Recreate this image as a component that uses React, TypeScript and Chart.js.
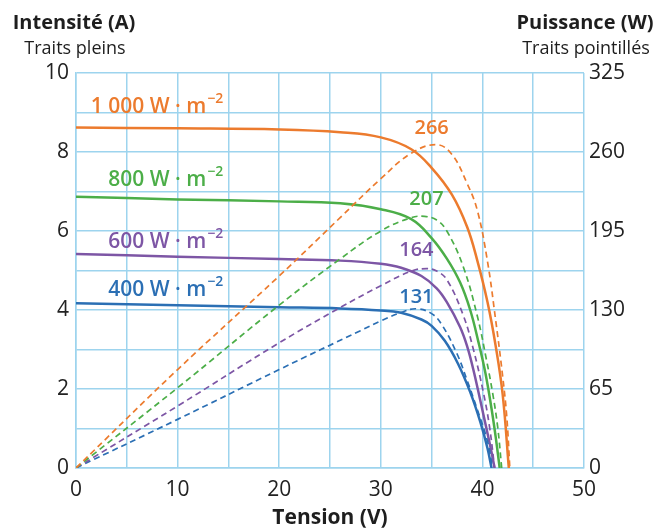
import React, { useEffect, useRef } from "react";
import { Chart, registerables } from "chart.js";

Chart.register(...registerables);

// ---- Data ----
// Intensity curves (solid): tension (V) -> intensité (A)
const V_I1000 = [0, 10, 20, 26, 30, 33, 35, 37, 38.5, 39.5, 40.5, 41.3, 42, 42.6];
const I_1000 = [8.62, 8.6, 8.57, 8.5, 8.37, 8.07, 7.6, 6.92, 6.1, 5.25, 4.2, 3.1, 1.85, 0];

const V_I800 = [0, 10, 20, 26, 30, 33, 35, 36.5, 37.8, 38.8, 39.6, 40.3, 40.9, 41.3, 41.7];
const I_800 = [6.87, 6.8, 6.75, 6.7, 6.55, 6.3, 5.82, 5.3, 4.7, 4.0, 3.2, 2.4, 1.5, 0.8, 0];

const V_I600 = [0, 10, 20, 26, 30, 32, 34, 35.5, 36.5, 37.8, 38.5, 39.1, 39.8, 40.4, 40.9, 41.2];
const I_600 = [5.42, 5.35, 5.29, 5.25, 5.17, 5.07, 4.86, 4.55, 4.2, 3.57, 3.08, 2.5, 1.7, 1.0, 0.4, 0];

const V_I400 = [0, 10, 20, 26, 30, 32, 34, 35, 36.3, 37.6, 38.8, 39.8, 40.5, 40.9];
const I_400 = [4.17, 4.12, 4.07, 4.04, 3.99, 3.93, 3.76, 3.6, 3.22, 2.64, 1.92, 1.16, 0.5, 0];

// Power curves (dashed): tension (V) -> puissance (W)
const V_P1000 = [0, 10, 20, 26, 30, 33, 35.5, 37, 38.5, 39.5, 40.5, 41.3, 42, 42.4, 42.7];
const P_1000 = [0, 81, 158, 206, 238, 259, 266, 258, 234, 212, 170, 122, 75, 42, 0];

const V_P800 = [0, 10, 20, 26, 30, 33, 34.3, 35.5, 36.5, 38.1, 39.5, 40.4, 41, 41.5, 41.9];
const P_800 = [0, 66, 134, 172, 195, 206, 207, 204, 195, 166, 125, 89, 62, 34, 0];

const V_P600 = [0, 10, 20, 26, 30, 33, 34.5, 35.5, 36.5, 38.1, 39.1, 40.1, 40.7, 41.2];
const P_600 = [0, 51, 103, 132, 150, 162, 164, 162, 155, 126, 98, 62, 34, 0];

const V_P400 = [0, 10, 20, 28, 30, 32, 33.5, 35, 36, 37.5, 38.5, 39.5, 40.5, 41.0];
const P_400 = [0, 40, 81, 113, 121, 128, 131, 127, 118, 94, 72, 48, 22, 0];

const SERIES_NAMES = ["1 000 W · m", "800 W · m", "600 W · m", "400 W · m"];
const PEAK_LABELS = ["266", "207", "164", "131"];
const COLORS = ["#ec7b2e", "#4cae48", "#7d56a5", "#2b6fb4"];

// Tick labels
const X_TICKS = [0, 10, 20, 30, 40, 50];
const Y_TICKS = [0, 2, 4, 6, 8, 10];
const Y2_TICKS = [0, 65, 130, 195, 260, 325];

// Label anchors (data coordinates)
const NAME_ANCHORS = [
  [14.5, 9.14],
  [14.5, 7.29],
  [14.5, 5.72],
  [14.5, 4.5],
];
const PEAK_ANCHORS = [
  [35.0, 8.6],
  [34.5, 6.8],
  [33.5, 5.5],
  [33.5, 4.33],
];

const GRID = "#9dd4ee";
const FONT = "'Open Sans', 'Noto Sans', sans-serif";

function pts(xs: number[], ys: number[]) {
  return xs.map((x, i) => ({ x, y: ys[i] }));
}

const labelsPlugin = {
  id: "labelsPlugin",
  afterDatasetsDraw(chart: any) {
    const ctx = chart.ctx as CanvasRenderingContext2D;
    const xs = chart.scales.x;
    const ys = chart.scales.y;
    ctx.save();
    // Series names
    NAME_ANCHORS.forEach((a, i) => {
      const px = xs.getPixelForValue(a[0]);
      const py = ys.getPixelForValue(a[1]);
      ctx.fillStyle = COLORS[i];
      ctx.textBaseline = "middle";
      ctx.font = `600 14px ${FONT}`;
      const sup = "−2";
      const supW = ctx.measureText(sup).width;
      ctx.textAlign = "right";
      ctx.fillText(sup, px, py - 8);
      ctx.font = `600 21px ${FONT}`;
      ctx.fillText(SERIES_NAMES[i], px - supW - 1, py);
    });
    // Peak labels
    PEAK_ANCHORS.forEach((a, i) => {
      const px = xs.getPixelForValue(a[0]);
      const py = ys.getPixelForValue(a[1]);
      ctx.fillStyle = COLORS[i];
      ctx.textAlign = "center";
      ctx.textBaseline = "middle";
      ctx.font = `600 20px ${FONT}`;
      ctx.fillText(PEAK_LABELS[i], px, py);
    });
    // Axis headers
    ctx.fillStyle = "#1e1e1e";
    ctx.textAlign = "center";
    ctx.textBaseline = "middle";
    ctx.font = `bold 20px ${FONT}`;
    ctx.fillText("Intensité (A)", 74, 23);
    ctx.fillText("Puissance (W)", 585, 23);
    ctx.font = `18px ${FONT}`;
    ctx.fillText("Traits pleins", 75, 49);
    ctx.fillText("Traits pointillés", 586, 49);
    ctx.restore();
  },
};

export default function App() {
  const ref = useRef<HTMLCanvasElement | null>(null);

  useEffect(() => {
    if (!ref.current) return;
    const iSets = [
      pts(V_I1000, I_1000),
      pts(V_I800, I_800),
      pts(V_I600, I_600),
      pts(V_I400, I_400),
    ];
    const pSets = [
      pts(V_P1000, P_1000),
      pts(V_P800, P_800),
      pts(V_P600, P_600),
      pts(V_P400, P_400),
    ];
    const datasets: any[] = [];
    pSets.forEach((d, i) =>
      datasets.push({
        label: "P " + SERIES_NAMES[i],
        data: d,
        yAxisID: "y2",
        borderColor: COLORS[i],
        borderWidth: 1.7,
        borderDash: [6, 4],
        pointRadius: 0,
        fill: false,
        tension: 0.4,
      })
    );
    iSets.forEach((d, i) =>
      datasets.push({
        label: "I " + SERIES_NAMES[i],
        data: d,
        yAxisID: "y",
        borderColor: COLORS[i],
        borderWidth: 2.5,
        pointRadius: 0,
        fill: false,
        tension: 0.4,
      })
    );

    const tickFont = { family: FONT, size: 21 };
    const chart = new Chart(ref.current, {
      type: "line",
      data: { datasets },
      plugins: [labelsPlugin],
      options: {
        animation: false,
        responsive: false,
        layout: { padding: { top: 73, left: 0, right: 0, bottom: 0 } },
        plugins: { legend: { display: false }, tooltip: { enabled: false } },
        scales: {
          x: {
            type: "linear",
            min: 0,
            max: 50,
            ticks: {
              stepSize: 5,
              color: "#222",
              font: tickFont,
              padding: 9,
              maxRotation: 0,
              autoSkip: false,
              callback: (v: any) => (X_TICKS.includes(Number(v)) ? String(v) : ""),
            },
            grid: { color: GRID, lineWidth: 1.5, drawTicks: false },
            border: { color: GRID, width: 1.5 },
            title: {
              display: true,
              text: "Tension (V)",
              color: "#1e1e1e",
              font: { family: FONT, size: 21, weight: "bold" },
              padding: 0,
            },
            afterFit: (s: any) => {
              s.height = 63;
            },
          },
          y: {
            type: "linear",
            position: "left",
            min: 0,
            max: 10,
            ticks: {
              stepSize: 1,
              color: "#222",
              font: tickFont,
              padding: 7,
              autoSkip: false,
              callback: (v: any) => (Y_TICKS.includes(Number(v)) ? String(v) : ""),
            },
            grid: { color: GRID, lineWidth: 1.5, drawTicks: false },
            border: { color: GRID, width: 1.5 },
            afterFit: (s: any) => {
              s.width = 76;
            },
          },
          y2: {
            type: "linear",
            position: "right",
            min: 0,
            max: 325,
            ticks: {
              stepSize: 65,
              color: "#222",
              font: tickFont,
              padding: 5,
              autoSkip: false,
              callback: (v: any) => (Y2_TICKS.includes(Number(v)) ? String(v) : ""),
            },
            grid: { drawOnChartArea: false, drawTicks: false },
            border: { display: false },
            afterFit: (s: any) => {
              s.width = 78;
            },
          },
        },
      } as any,
    });
    return () => chart.destroy();
  }, []);

  return (
    <div style={{ position: "fixed", left: 0, top: 0, width: 662, height: 531, background: "#fff" }}>
      <canvas ref={ref} width={662} height={531} style={{ width: 662, height: 531, display: "block" }} />
    </div>
  );
}
